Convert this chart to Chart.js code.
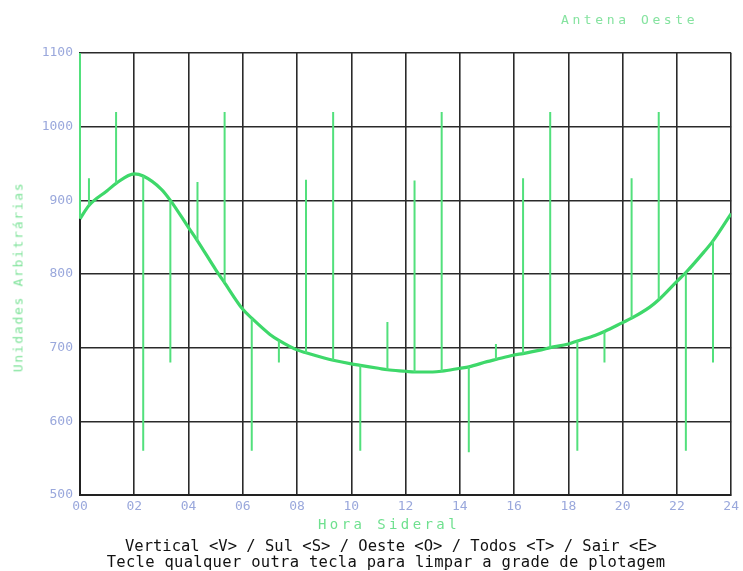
<!DOCTYPE html>
<html>
<head>
<meta charset="utf-8">
<script src="https://cdn.jsdelivr.net/npm/chart.js@4/dist/chart.umd.min.js"></script>
<style>
  body { margin: 0; background: #fff; }
  #wrap { position: relative; width: 743px; height: 571px; overflow: hidden; }
  .lbl { position: absolute; white-space: nowrap; font-family: "DejaVu Sans Mono", monospace; }
  #title { left: 561px; top: 12px; font-size: 13px; color: #86e3a0; letter-spacing: 3.6px; }
  #ytitle { left: 18px; top: 277px; font-size: 13px; color: #7fe39a; letter-spacing: 1.7px;
            transform: translate(-50%, -50%) rotate(-90deg); }
  #xtitle { left: 389px; top: 516px; font-size: 14px; color: #6fe08f; letter-spacing: 3.4px;
            transform: translateX(-50%); }
  .help { left: 391px; font-size: 15.5px; color: #111; transform: translateX(-50%); }
</style>
</head>
<body>
<div id="wrap">
  <canvas id="myChart" width="743" height="571"></canvas>
  <div class="lbl" id="title">Antena Oeste</div>
  <div class="lbl" id="ytitle">Unidades Arbitrárias</div>
  <div class="lbl" id="xtitle">Hora Sideral</div>
  <div class="lbl help" style="top:537px">Vertical &lt;V&gt; / Sul &lt;S&gt; / Oeste &lt;O&gt; / Todos &lt;T&gt; / Sair &lt;E&gt;</div>
  <div class="lbl help" style="top:553px; left:386px; letter-spacing:0.3px">Tecle qualquer outra tecla para limpar a grade de plotagem</div>
</div>
<script>
let ctx = document.getElementById('myChart');

// hora sideral of each sample (integer hours and the spike hours h+0.33)
let hours = [0, 0.33, 1, 1.33, 2, 2.33, 3, 3.33, 4, 4.33, 5, 5.33, 6, 6.33, 7, 7.33, 8, 8.33,
    9, 9.33, 10, 10.33, 11, 11.33, 12, 12.33, 13, 13.33, 14, 14.33, 15, 15.33, 16, 16.33,
    17, 17.33, 18, 18.33, 19, 19.33, 20, 20.33, 21, 21.33, 22, 22.33, 23, 23.33, 24];
// smooth signal
let signal = [875, 893, 913, 923, 936, 933, 915, 900, 863, 845, 806, 788, 752, 740, 718, 710, 697, 693,
    686, 683, 678, 676, 672, 670, 668, 667, 667, 668, 672, 674, 681, 684, 690, 692,
    697, 700, 705, 709, 717, 722, 734, 740, 755, 765, 790, 802, 830, 845, 882];
// tip of the spike at that sample (null = no spike)
let spikes = [1100, 930, null, 1020, null, 560, null, 680, null, 925, null, 1020, null, 560, null, 680, null, 928,
    null, 1020, null, 560, null, 735, null, 927, null, 1020, null, 558, null, 705, null, 930,
    null, 1020, null, 560, null, 680, null, 930, null, 1020, null, 560, null, 680, null];

let yTicks = [500, 600, 700, 800, 900, 1000, 1100];

function build_curve() {
    let pts = [];
    hours.forEach((h, i) => {
        pts.push({ x: h, y: signal[i] });
    })
    return pts;
}

function build_spikes() {
    let pts = [];
    hours.forEach((h, i) => {
        if (spikes[i] != null) {
            pts.push({ x: h, y: signal[i] });
            pts.push({ x: h, y: spikes[i] });
            pts.push({ x: h, y: null });
        }
    })
    return pts;
}

let tickFont = { family: 'DejaVu Sans Mono', size: 13 };

let c = new Chart(ctx, {
    type: 'line',
    data: {
        datasets: [{
            data: build_spikes(),
            borderColor: '#52e07c',
            borderWidth: 2,
            pointRadius: 0,
            spanGaps: false,
            clip: false,
            tension: 0
        }, {
            data: build_curve(),
            borderColor: '#3ed86a',
            borderWidth: 3.2,
            pointRadius: 0,
            cubicInterpolationMode: 'monotone'
        }]
    },
    options: {
        responsive: false,
        animation: false,
        layout: { padding: { left: 0, top: 53, right: 11, bottom: 46 } },
        plugins: { legend: { display: false }, tooltip: { enabled: false } },
        scales: {
            x: {
                type: 'linear',
                min: 0,
                max: 24,
                afterFit: (s) => { s.height = 30; },
                ticks: {
                    stepSize: 2,
                    padding: 4,
                    color: '#9aa8dc',
                    font: tickFont,
                    maxRotation: 0,
                    callback: (v) => String(v).padStart(2, '0')
                },
                grid: { color: '#2a2a2a', lineWidth: 1.6, drawTicks: false },
                border: { color: '#222', width: 2 }
            },
            y: {
                min: 500,
                max: 1100,
                afterFit: (s) => { s.width = 80; },
                afterBuildTicks: (s) => { s.ticks = yTicks.map(v => ({ value: v })); },
                ticks: { padding: 7, color: '#9aa8dc', font: tickFont, callback: (v) => String(v) },
                grid: { color: '#2a2a2a', lineWidth: 1.6, drawTicks: false },
                border: { color: '#222', width: 2 }
            }
        }
    }
});
</script>
</body>
</html>
